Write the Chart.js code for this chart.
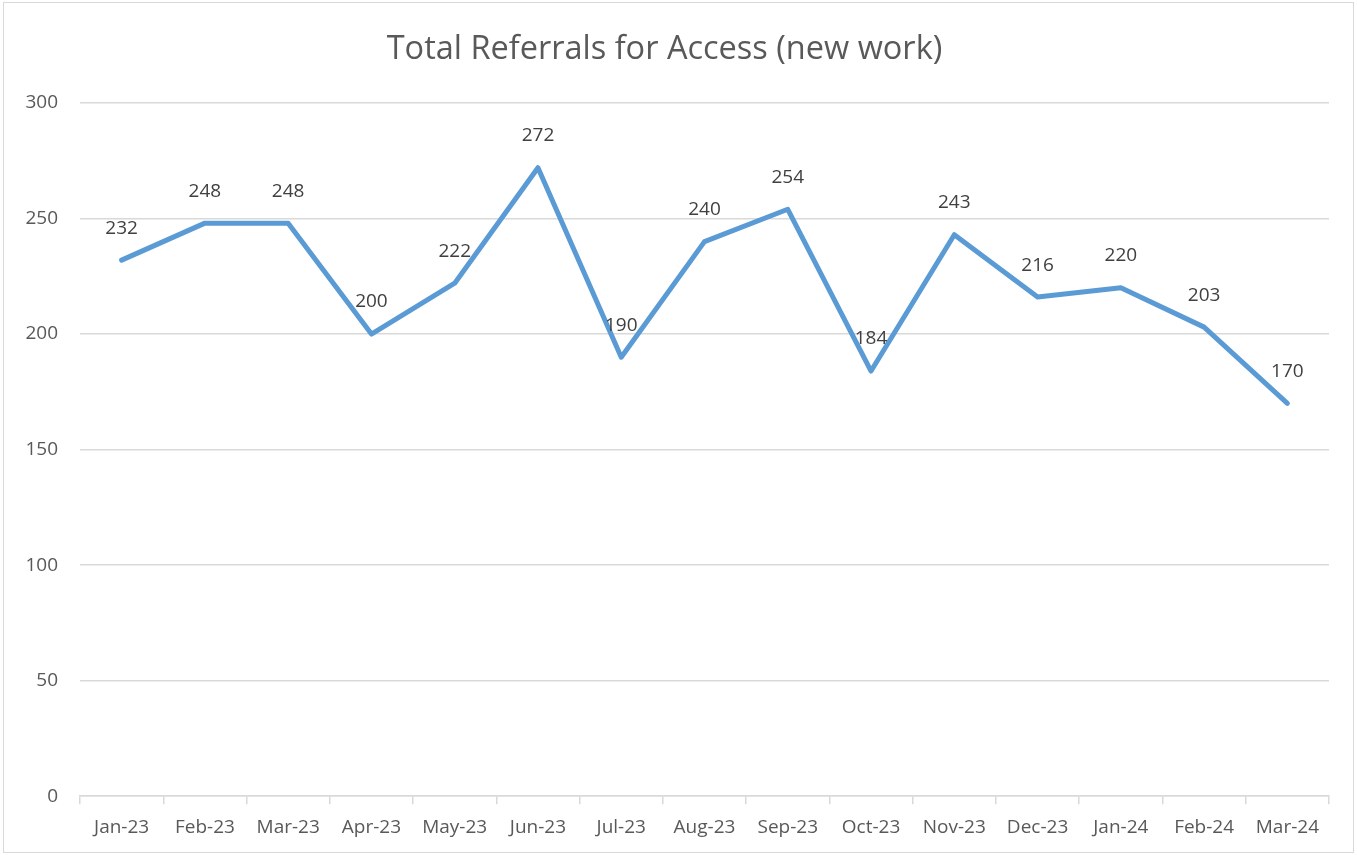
<!DOCTYPE html>
<html>
<head>
<meta charset="utf-8">
<script src="https://cdn.jsdelivr.net/npm/chart.js@4/dist/chart.umd.min.js"></script>
<style>
  html, body { margin: 0; padding: 0; background: #fff; }
  #wrap { width: 1357px; height: 855px; position: relative; }
</style>
</head>
<body>
<div id="wrap"><canvas id="referralsChart"></canvas></div>
<script>
// Dados
const months = ['Jan-23', 'Feb-23', 'Mar-23', 'Apr-23', 'May-23', 'Jun-23', 'Jul-23', 'Aug-23',
  'Sep-23', 'Oct-23', 'Nov-23', 'Dec-23', 'Jan-24', 'Feb-24', 'Mar-24'];
const referrals = [232, 248, 248, 200, 222, 272, 190, 240, 254, 184, 243, 216, 220, 203, 170];
const yTicks = [0, 50, 100, 150, 200, 250, 300];

const FONT = "'Open Sans', sans-serif";

// rótulos de dados acima de cada ponto
const pointLabels = {
  id: 'pointLabels',
  afterDatasetsDraw(chart) {
    const ctx = chart.ctx;
    const meta = chart.getDatasetMeta(0);
    ctx.save();
    ctx.font = '19px ' + FONT;
    ctx.fillStyle = '#404040';
    ctx.textAlign = 'center';
    ctx.textBaseline = 'middle';
    meta.data.forEach((pt, i) => {
      ctx.fillText(String(referrals[i]), pt.x, pt.y - 32);
    });
    ctx.restore();
  }
};

// borda externa
const outerBorder = {
  id: 'outerBorder',
  beforeDraw(chart) {
    const ctx = chart.ctx;
    ctx.save();
    ctx.fillStyle = '#fff';
    ctx.fillRect(0, 0, chart.width, chart.height);
    ctx.strokeStyle = '#d9d9d9';
    ctx.lineWidth = 1;
    ctx.strokeRect(3.5, 2.5, chart.width - 7, chart.height - 5);
    ctx.restore();
  }
};

new Chart(document.getElementById('referralsChart'), {
  type: 'line',
  data: {
    labels: months,
    datasets: [{
      label: 'Total Referrals',
      data: referrals,
      borderColor: '#5b9bd5',
      borderWidth: 5,
      borderCapStyle: 'round',
      borderJoinStyle: 'round',
      pointRadius: 0,
      tension: 0,
      fill: false
    }]
  },
  options: {
    responsive: true,
    maintainAspectRatio: false,
    animation: false,
    layout: { padding: { top: 30, right: 28, bottom: 4, left: 0 } },
    plugins: {
      legend: { display: false },
      tooltip: { enabled: false },
      title: {
        display: true,
        text: 'Total Referrals for Access (new work)',
        color: '#595959',
        font: { family: FONT, size: 32.5, weight: 'normal' },
        padding: { top: 0, bottom: 34 }
      }
    },
    scales: {
      x: {
        offset: true,
        grid: {
          display: true,
          offset: true,
          drawOnChartArea: false,
          drawTicks: true,
          tickLength: 8,
          color: '#d9d9d9',
          lineWidth: 1.5
        },
        border: { display: true, color: '#d9d9d9', width: 1.5 },
        ticks: {
          color: '#595959',
          font: { family: FONT, size: 19 },
          padding: 12,
          maxRotation: 0,
          autoSkip: false
        }
      },
      y: {
        min: 0,
        max: 300,
        afterBuildTicks(scale) {
          scale.ticks = yTicks.map(v => ({ value: v }));
        },
        afterFit(scale) { scale.width = 80; },
        grid: {
          color: '#d9d9d9',
          lineWidth: 1.5,
          drawTicks: false
        },
        border: { display: false },
        ticks: {
          color: '#595959',
          font: { family: FONT, size: 19 },
          padding: 22
        }
      }
    }
  },
  plugins: [outerBorder, pointLabels]
});
</script>
</body>
</html>
